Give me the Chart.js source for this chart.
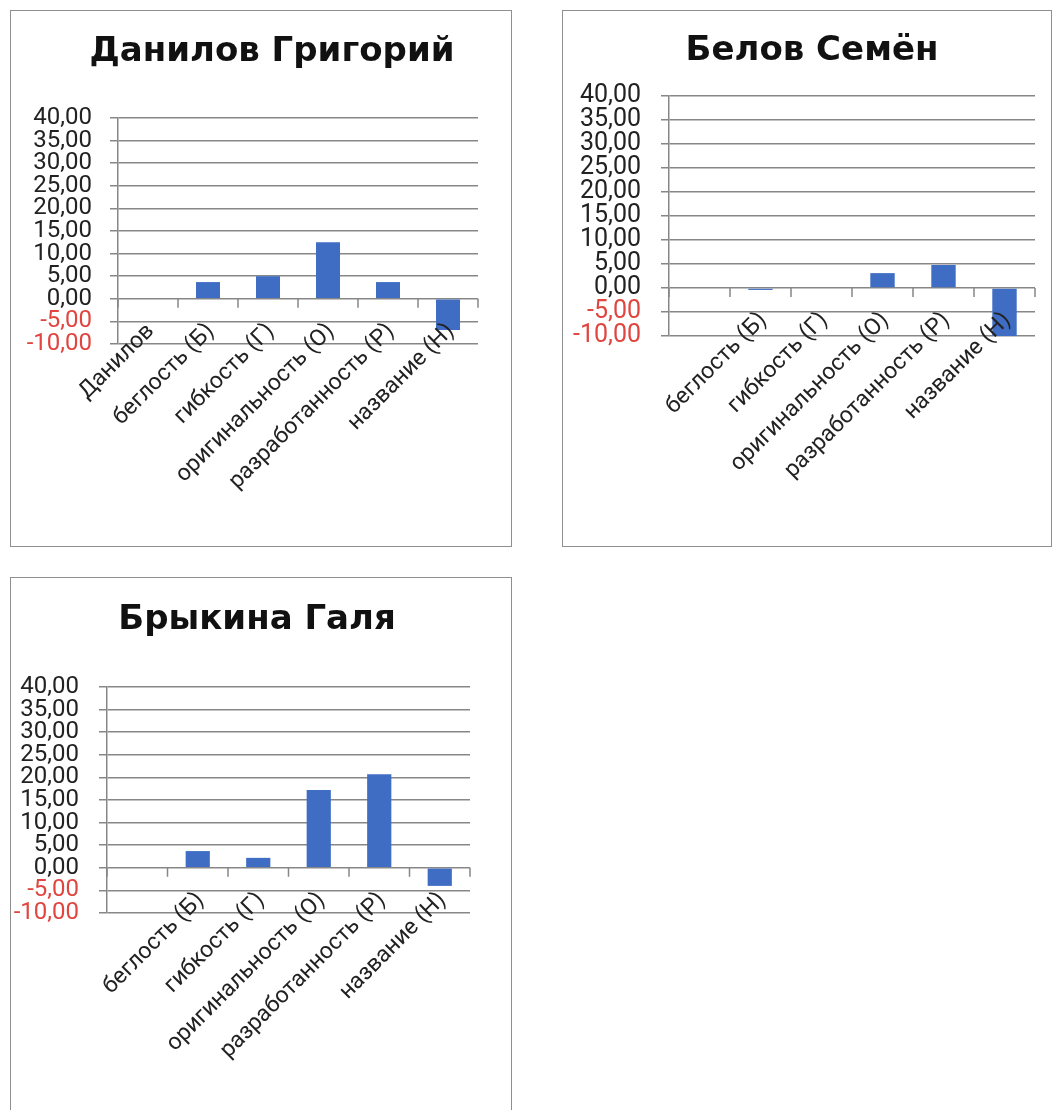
<!DOCTYPE html>
<html>
<head>
<meta charset="utf-8">
<script src="https://cdn.jsdelivr.net/npm/chart.js@4/dist/chart.umd.min.js"></script>
<style>
  html, body { margin: 0; padding: 0; background: #fff; width: 1054px; height: 1110px; overflow: hidden; }
  .panel { position: absolute; box-sizing: border-box; border: 1px solid #8f8f8f; background: #fff; overflow: hidden; }
  .panel canvas { position: absolute; left: 0; top: 0; }
</style>
</head>
<body>
<div class="panel" style="left:10px; top:10px; width:502px; height:537px;"><canvas id="chartDanilov" width="500" height="535"></canvas></div>
<div class="panel" style="left:562px; top:10px; width:490px; height:537px;"><canvas id="chartBelov" width="488" height="535"></canvas></div>
<div class="panel" style="left:10px; top:577px; width:502px; height:537px;"><canvas id="chartBrykina" width="500" height="535"></canvas></div>
<script>
// Scores per creativity indicator
const categoriesDanilov = ['Данилов', 'беглость (Б)', 'гибкость (Г)', 'оригинальность (О)', 'разработанность (Р)', 'название (Н)'];
const categoriesOthers  = ['', 'беглость (Б)', 'гибкость (Г)', 'оригинальность (О)', 'разработанность (Р)', 'название (Н)'];

const valuesDanilov = [null, 3.7, 5.0, 12.5, 3.7, -6.9];
const valuesBelov   = [null, -0.4, 0, 3.1, 4.8, -10.0];
const valuesBrykina = [null, 3.7, 2.2, 17.2, 20.7, -4.0];

const titles = ['Данилов Григорий', 'Белов Семён', 'Брыкина Галя'];

// value axis
const yMin = -10;
const yMax = 40;
const yStep = 5;

const BAR_COLOR = '#3f6dc4';
const GRID_COLOR = '#878787';
const TEXT_COLOR = '#222222';
const NEG_COLOR = '#e0453f';

const formatValue = v => v.toFixed(2).replace('.', ',');

// short tick marks on the zero axis between categories
const categoryTicks = {
  id: 'categoryTicks',
  afterDatasetsDraw(chart) {
    const x = chart.scales.x, y = chart.scales.y;
    const y0 = y.getPixelForValue(0);
    const n = x.ticks.length;
    const ctx = chart.ctx;
    ctx.save();
    ctx.strokeStyle = GRID_COLOR;
    ctx.lineWidth = 1.5;
    ctx.beginPath();
    for (let i = 0; i <= n; i++) {
      let px;
      if (i === 0) px = x.left;
      else if (i === n) px = x.right;
      else px = (x.getPixelForTick(i - 1) + x.getPixelForTick(i)) / 2;
      ctx.moveTo(px, y0);
      ctx.lineTo(px, y0 + 9);
    }
    ctx.stroke();
    ctx.restore();
  }
};

// box: plot area edges and title centre in canvas pixels
function makeChart(id, title, labels, values, box) {
  const canvas = document.getElementById(id);
  const W = canvas.width, H = canvas.height;
  const titleSize = 34, titleLH = 1.2;
  const titleHalf = titleSize * titleLH / 2;
  const titleRight = 2 * box.titleX;           // title box spans 0..titleRight
  return new Chart(canvas, {
    type: 'bar',
    data: {
      labels: labels,
      datasets: [{
        data: values,
        backgroundColor: BAR_COLOR,
        borderWidth: 0,
        barPercentage: 0.4,
        categoryPercentage: 1.0
      }]
    },
    plugins: [categoryTicks],
    options: {
      responsive: false,
      animation: false,
      devicePixelRatio: 1,
      layout: { padding: { left: 0, right: W - titleRight, top: 0, bottom: 0 } },
      plugins: {
        legend: { display: false },
        tooltip: { enabled: false },
        title: {
          display: true,
          text: title,
          color: '#111',
          font: { family: 'DejaVu Sans', size: titleSize, weight: 'bold', lineHeight: titleLH },
          padding: { top: box.titleY - titleHalf, bottom: box.top - (box.titleY + titleHalf) }
        }
      },
      scales: {
        x: {
          grid: { display: false, drawTicks: false },
          border: { display: false },
          ticks: {
            z: 1,
            autoSkip: false,
            maxRotation: 45,
            minRotation: 45,
            mirror: true,
            padding: box.labelPad,
            labelOffset: 19,
            color: TEXT_COLOR,
            font: { family: 'Roboto', size: 23, lineHeight: 1.0 }
          },
          afterFit(scale) {
            scale.height = H - box.bottom;
            scale.paddingLeft = 0;
            scale.paddingRight = W - box.right;
          }
        },
        y: {
          min: yMin,
          max: yMax,
          ticks: {
            autoSkip: false,
            stepSize: yStep,
            padding: box.yPad,
            color: ctx => (ctx.tick && ctx.tick.value < 0 ? NEG_COLOR : TEXT_COLOR),
            font: { family: 'Roboto', size: box.yFont },
            callback: v => formatValue(v)
          },
          grid: { color: GRID_COLOR, lineWidth: 1.5, tickLength: 8, drawTicks: true },
          border: { display: true, color: GRID_COLOR, width: 1.5 },
          afterFit(scale) {
            scale.width = box.left;
          }
        }
      }
    }
  });
}

makeChart('chartDanilov', titles[0], categoriesDanilov, valuesDanilov,
  { left: 107, right: 467, top: 107, bottom: 333, titleX: 261, titleY: 41, yPad: 18, yFont: 24, labelPad: 8 });
makeChart('chartBelov', titles[1], categoriesOthers, valuesBelov,
  { left: 106, right: 472, top: 85, bottom: 325, titleX: 249, titleY: 40, yPad: 20, yFont: 25, labelPad: 11 });
makeChart('chartBrykina', titles[2], categoriesOthers, valuesBrykina,
  { left: 96, right: 459, top: 109, bottom: 335, titleX: 246, titleY: 42, yPad: 20, yFont: 24, labelPad: 8 });
</script>
</body>
</html>
